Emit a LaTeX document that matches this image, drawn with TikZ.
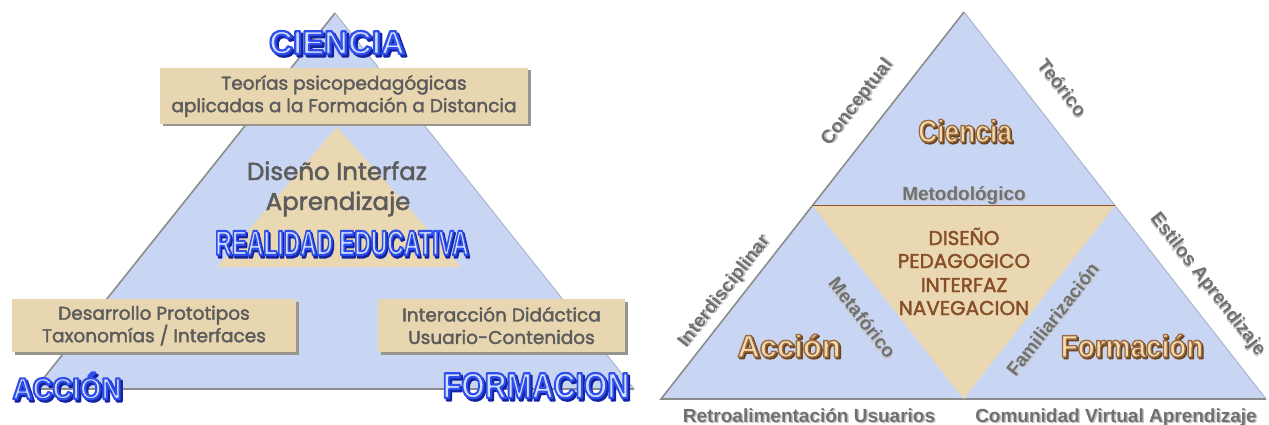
\documentclass[tikz,border=0pt]{standalone}
\usepackage{fontspec}
\usetikzlibrary{calc}
\newfontfamily\lib{Liberation Sans}
\newfontfamily\pop[FakeBold=2]{Poppins}
\definecolor{triblue}{RGB}{201,214,243}
\definecolor{tanin}{RGB}{234,216,178}
\definecolor{boxtan}{RGB}{232,214,176}
\definecolor{boxsh}{RGB}{150,150,140}
\definecolor{edgegray}{RGB}{140,140,140}
\definecolor{edgelight}{RGB}{170,180,205}
\definecolor{txtgray}{RGB}{92,92,92}
\definecolor{labgray}{RGB}{112,112,112}
\definecolor{shgray}{RGB}{195,195,195}
\definecolor{brn}{RGB}{135,78,40}
\definecolor{brnline}{RGB}{150,85,40}
\definecolor{olfill}{RGB}{210,222,250}
\definecolor{olshadow}{RGB}{20,35,160}
\definecolor{tanfill}{RGB}{242,220,178}
\definecolor{tanshadow}{RGB}{105,68,35}
% stroked text: #1 fill colour, #2 stroke rgb, #3 line width, #4 text
\newcommand\strk[4]{{\color{#1}\special{pdf:literal direct 2 Tr #3 w 1 j #2 RG}#4\special{pdf:literal direct 0 Tr 0 j}}}
\newcommand\blueword[1]{\leavevmode
  \rlap{\kern2.4pt\raisebox{-2.4pt}{\strk{olshadow}{0.078 0.137 0.627}{2.2}{#1}}}%
  \strk{olfill}{0.18 0.31 0.92}{2.2}{#1}}
\newcommand\tanword[1]{\leavevmode
  \rlap{\kern1.6pt\raisebox{-1.6pt}{\strk{tanshadow}{0.41 0.27 0.14}{1.4}{#1}}}%
  \strk{tanfill}{0.61 0.41 0.24}{1.4}{#1}}
\newcommand\shl[1]{\leavevmode\rlap{\kern1.5pt\raisebox{-1.5pt}{\textcolor{shgray}{#1}}}\textcolor{labgray}{#1}}
\tikzset{
  tanbox/.style={fill=boxtan, inner sep=0pt, align=center, text=txtgray,
    font=\pop\fontsize{18.5}{22.5}\selectfont,
    preaction={fill=boxsh, transform canvas={xshift=2.5pt,yshift=-2.5pt}}},
  bigword/.style={inner sep=0pt, anchor=base, font=\lib\bfseries},
  lbl/.style={inner sep=0pt, font=\lib\bfseries\fontsize{19}{22}\selectfont},
  inner/.style={inner sep=0pt, anchor=base, text=txtgray, font=\pop\fontsize{24.5}{28}\selectfont},
  brnword/.style={inner sep=0pt, anchor=base, text=brn, font=\pop\fontsize{20}{24}\selectfont},
  edge/.style={draw=edgegray, line width=1.6pt},
  ledge/.style={draw=edgelight, line width=1pt}
}
\begin{document}
\begin{tikzpicture}[x=1pt,y=-1pt]
\useasboundingbox (0,0) rectangle (1269,425);
% ---------------- left diagram ----------------
\coordinate (LA) at (335,13);
\coordinate (LL) at (35,389);
\coordinate (LR) at (634,389);
\coordinate (IA) at (337,127);
\coordinate (IL) at (217,267);
\coordinate (IR) at (461,267);
\fill[triblue] (LA) -- (LL) -- (LR) -- cycle;
\draw[ledge] (LA) -- (LR);
\draw[edge] (LR) -- (LL) -- (LA);
\fill[tanin] (IA) -- (IL) -- (IR) -- cycle;

\node[tanbox, minimum width=368pt, minimum height=56pt] (topbox) at (344,96)
  {Teorías psicopedagógicas\\aplicadas a la Formación a Distancia};
\node[tanbox, minimum width=284pt, minimum height=53pt] (leftbox) at (154,325.5)
  {Desarrollo Prototipos\\Taxonomías / Interfaces};
\node[tanbox, minimum width=247pt, minimum height=53pt] (rightbox) at (501.5,325.5)
  {Interacción Didáctica\\Usuario-Contenidos};

\node[inner] (dis) at (337,180) {Diseño Interfaz};
\node[inner] (apr) at (338,210) {Aprendizaje};

\node[bigword, font=\lib\bfseries\fontsize{33}{36}\selectfont] (ciencia) at (337,54) {\blueword{CIENCIA}};
\node[bigword, font=\lib\bfseries\fontsize{35}{38}\selectfont] (realidad) at (342,255)
  {\scalebox{0.65}[1]{\blueword{REALIDAD EDUCATIVA}}};
\node[bigword, font=\lib\bfseries\fontsize{30}{34}\selectfont] (accion) at (67,399)
  {\scalebox{0.92}[1]{\blueword{ACCIÓN}}};
\node[bigword, font=\lib\bfseries\fontsize{36}{40}\selectfont] (formacion) at (536,398)
  {\scalebox{0.84}[1]{\blueword{FORMACION}}};

% ---------------- right diagram ----------------
\coordinate (RA) at (964,12);
\coordinate (RL) at (661,399);
\coordinate (RR) at (1266,399);
\coordinate (ML) at ($(RA)!0.5!(RL)$);
\coordinate (MR) at ($(RA)!0.5!(RR)$);
\coordinate (MB) at ($(RL)!0.5!(RR)$);
\fill[triblue] (RA) -- (RL) -- (RR) -- cycle;
\draw[ledge] (RA) -- (RR);
\draw[edge] (RR) -- (RL) -- (RA);
\fill[tanin] (ML) -- (MR) -- (MB) -- cycle;
\draw[draw=brnline, line width=1.3pt] (ML) -- (MR);

\node[lbl, rotate=52] (concep) at (858,103) {\shl{Conceptual}};
\node[lbl, rotate=-52] (teor) at (1062,88) {\shl{Teórico}};
\node[lbl, rotate=52] (inter) at (725,292) {\shl{Interdisciplinar}};
\node[lbl, rotate=-52] (estil) at (1207,285) {\shl{Estilos Aprendizaje}};
\node[lbl, rotate=-52] (metaf) at (862,318) {\shl{Metafórico}};
\node[lbl, rotate=52] (famil) at (1053,320) {\shl{Familiarización}};
\node[lbl, anchor=base] (metod) at (964,200) {\shl{Metodológico}};
\node[lbl, anchor=base] (retro) at (809,422) {\shl{Retroalimentación Usuarios}};
\node[lbl, anchor=base] (comun) at (1116,422) {\shl{Comunidad Virtual Aprendizaje}};

\node[bigword, font=\lib\bfseries\fontsize{31}{34}\selectfont] (cienc2) at (965,142)
  {\scalebox{0.85}[1]{\tanword{Ciencia}}};
\node[bigword, font=\lib\bfseries\fontsize{31}{34}\selectfont] (acc2) at (789,357)
  {\tanword{Acción}};
\node[bigword, font=\lib\bfseries\fontsize{31}{34}\selectfont] (form2) at (1132,357)
  {\scalebox{0.9}[1]{\tanword{Formación}}};

\node[brnword] (d1) at (964,245) {DISEÑO};
\node[brnword] (d2) at (964,268) {PEDAGOGICO};
\node[brnword] (d3) at (964,292) {INTERFAZ};
\node[brnword] (d4) at (964,315) {NAVEGACION};
\end{tikzpicture}
\end{document}
